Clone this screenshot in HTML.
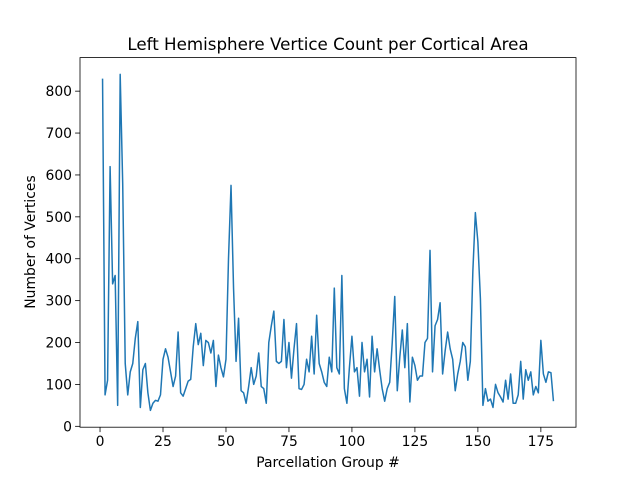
<!DOCTYPE html>
<html><head><meta charset="utf-8"><style>
body{margin:0;background:#fff;font-family:"Liberation Sans","DejaVu Sans",sans-serif;}
svg text{font-family:"DejaVu Sans","Liberation Sans",sans-serif;}
</style></head><body>
<svg id="chart" width="640" height="480" xmlns="http://www.w3.org/2000/svg">
<rect width="640" height="480" fill="#fff"/>
<text x="328" y="50" font-size="16.7" text-anchor="middle">Left Hemisphere Vertice Count per Cortical Area</text>
<g id="axes"></g>
<text x="328" y="467" font-size="13.9" text-anchor="middle">Parcellation Group #</text>
<text x="0" y="0" font-size="13.9" text-anchor="middle" transform="translate(35,242) rotate(-90)">Number of Vertices</text>
</svg>
<script>
const values=[830,75,110,620,340,360,50,840,580,150,75,130,150,210,250,45,135,150,80,38,55,62,60,75,160,185,165,130,95,120,225,80,72,90,108,112,190,245,195,222,145,205,200,175,205,95,170,140,118,160,400,575,330,155,258,85,80,55,95,140,100,120,175,95,90,55,200,240,275,155,150,155,255,140,200,115,185,245,90,88,100,160,130,215,125,265,150,130,105,95,165,130,330,140,125,360,90,55,140,215,130,140,72,200,130,160,70,215,130,185,135,90,60,90,105,200,310,85,165,230,140,245,58,165,145,110,120,120,200,210,420,130,240,255,295,125,180,225,185,160,85,125,155,200,190,110,155,370,510,440,305,50,90,60,65,45,100,80,70,58,110,65,125,55,55,75,155,65,135,110,130,75,95,80,205,125,105,130,128,60];
const xTicks=[0,25,50,75,100,125,150,175];
const yTicks=[0,100,200,300,400,500,600,700,800];
const L=80,R=576,T=57.6,B=427.2;
const n=values.length;
const xmin=1-(n-1)*0.05,xmax=n+(n-1)*0.05;
const vmin=Math.min(...values),vmax=Math.max(...values);
const ymin=vmin-(vmax-vmin)*0.05,ymax=vmax+(vmax-vmin)*0.05;
const sx=v=>L+(v-xmin)/(xmax-xmin)*(R-L);
const sy=v=>B-(v-ymin)/(ymax-ymin)*(B-T);
const g=document.getElementById('axes');
const NS='http://www.w3.org/2000/svg';
function mk(t,a){const e=document.createElementNS(NS,t);for(const k in a)e.setAttribute(k,a[k]);g.appendChild(e);return e;}
const pts=values.map((v,i)=>sx(i+1).toFixed(2)+','+sy(v).toFixed(2)).join(' ');
const line=mk('polyline',{points:pts,fill:'none',stroke:'#1f77b4','stroke-width':1.5,'stroke-linejoin':'round'});


xTicks.forEach(t=>{const x=sx(t);
const tk=mk('line',{x1:x,x2:x,y1:B,y2:B+4.9,stroke:'#000','stroke-width':0.8});


const tx=mk('text',{x:x,y:B+19,'font-size':13.9,'text-anchor':'middle'});tx.textContent=t;

});
yTicks.forEach(t=>{const y=sy(t);
const tk=mk('line',{x1:L-4.9,x2:L,y1:y,y2:y,stroke:'#000','stroke-width':0.8});


const tx=mk('text',{x:L-8,y:y+5,'font-size':13.9,'text-anchor':'end'});tx.textContent=t;

});
const fr=mk('rect',{x:L,y:T,width:R-L,height:B-T,fill:'none',stroke:'#000','stroke-width':0.8});


</script>
</body></html>
